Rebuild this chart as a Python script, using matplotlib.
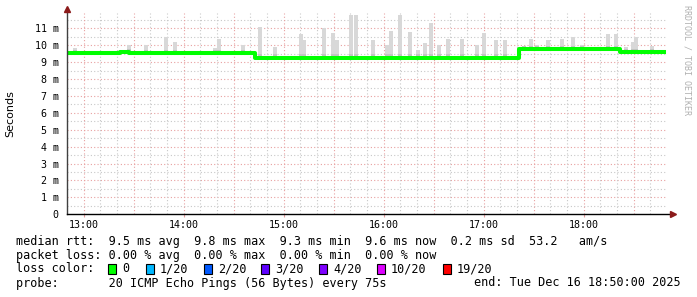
import matplotlib
matplotlib.use('Agg')
import matplotlib.pyplot as plt
from matplotlib.patches import Rectangle
import numpy as np

# minutes after 12:50, graph runs 12:50 -> 18:50
med_edges = [0, 32, 37, 113, 271, 332, 358]
med_vals = [9.56, 9.63, 9.56, 9.28, 9.76, 9.58]   # ms

# smoke spikes: start minute and top (ms)
spike_t = [3.6, 36, 46.2, 58.2, 63.6, 87.6, 90, 104.4, 114.6, 123.6, 139.2, 141, 153, 158.4,
           160.8, 169.2, 172.2, 182.4, 190.8, 193.2, 198.6, 204.6, 209.4, 213.6, 217.2, 222,
           227.4, 235.8, 244.8, 249, 256.2, 261.6, 273, 277.2, 280.8, 287.4, 295.8, 302.4,
           307.8, 323.4, 328.2, 334.2, 338.4, 340.2, 349.8]
spike_top = [9.85, 10.0, 10.0, 10.5, 10.2, 9.85, 10.35, 10.0, 11.1, 9.9, 10.65, 10.3, 11.0, 10.75,
             10.3, 11.8, 11.8, 10.3, 10.0, 10.85, 11.8, 10.8, 9.75, 10.15, 11.35, 10.0,
             10.35, 10.4, 10.05, 10.75, 10.3, 10.3, 9.95, 10.4, 10.0, 10.3, 10.35, 10.5,
             10.0, 10.65, 10.65, 9.9, 10.2, 10.5, 9.95]

hour_ticks = [10, 70, 130, 190, 250, 310]
hour_labels = ['13:00', '14:00', '15:00', '16:00', '17:00', '18:00']
ytick_vals = list(range(0, 12))
ytick_labels = ['0'] + ['%d m' % v for v in range(1, 12)]

loss_labels = ['0', '1/20', '2/20', '3/20', '4/20', '10/20', '19/20']
loss_colors = ['#00ff00', '#00b8ff', '#0059ff', '#5e00ff', '#7e00ff', '#dd00ff', '#ff0000']

W, H = 697, 297
mono = 'DejaVu Sans Mono'

def fx(x):
    return x / W

def fy(y):
    return 1 - y / H

fig = plt.figure(figsize=(W / 100, H / 100), dpi=100)
ax = fig.add_axes([fx(67), fy(214.2), 600 / W, (214.2 - 13.3) / H])
ax.set_xlim(0, 360)
ax.set_ylim(0, 11.9)

# grid
for v in np.arange(0.5, 12, 1.0):
    ax.axhline(v, color='#c8c8c8', lw=0.8, ls=(0, (1, 2)), zorder=0)
for v in range(1, 12):
    ax.axhline(v, color='#e8a0a0', lw=0.8, ls=(0, (1, 2)), zorder=0)
for m in range(10, 360, 10):
    if (m - 10) % 30 == 0:
        ax.axvline(m, color='#e8a0a0', lw=0.8, ls=(0, (1, 2)), zorder=0)
    else:
        ax.axvline(m, color='#c8c8c8', lw=0.8, ls=(0, (1, 2)), zorder=0)

# smoke
def med_at(t):
    i = np.searchsorted(med_edges, t, side='right') - 1
    return med_vals[min(max(i, 0), len(med_vals) - 1)]

bottoms = [med_at(t) - 0.12 for t in spike_t]
heights = [top - b for top, b in zip(spike_top, bottoms)]
ax.bar(spike_t, heights, bottom=bottoms, width=2.4, align='edge', color='#d8d8d8', zorder=1)
ax.bar(spike_t, [0.3] * len(spike_t), bottom=bottoms, width=2.4, align='edge', color='#c4c4c4', zorder=1)

# median line
ax.step(med_edges, med_vals + [med_vals[-1]], where='post', color='#00ff00', lw=2.9, zorder=3)

# axes
for s in ax.spines.values():
    s.set_visible(False)
ax.plot([0, 0], [0, 12.1], color='#404040', lw=1, clip_on=False, zorder=4)
ax.plot([0, 363], [0, 0], color='black', lw=1, clip_on=False, zorder=4)
ax.plot([0], [12.15], marker='^', color='#8b1a1a', ms=4, clip_on=False, zorder=5)
ax.plot([363.5], [0], marker='>', color='#8b1a1a', ms=4, clip_on=False, zorder=5)

ax.set_xticks(hour_ticks)
ax.set_xticklabels(hour_labels, fontfamily=mono, fontsize=7.2)
ax.set_yticks(ytick_vals)
ax.set_yticklabels(ytick_labels, fontfamily=mono, fontsize=7.2)
ax.tick_params(axis='x', length=2, pad=2, color='#e8a0a0')
ax.tick_params(axis='y', length=0, pad=6)

fig.text(fx(10), fy(114), 'Seconds', rotation=90, ha='center', va='center', fontsize=8)
fig.text(fx(687), fy(5), 'RRDTOOL / TOBI OETIKER', rotation=270, ha='center', va='top',
         fontsize=6, color='#b0b0b0', fontfamily=mono)

# legend block
fs = 8.5
fig.text(fx(16), fy(241), 'median rtt:  9.5 ms avg  9.8 ms max  9.3 ms min  9.6 ms now  0.2 ms sd  53.2   am/s',
         fontfamily=mono, fontsize=fs, va='center')
fig.text(fx(16), fy(255), 'packet loss: 0.00 % avg  0.00 % max  0.00 % min  0.00 % now',
         fontfamily=mono, fontsize=fs, va='center')
fig.text(fx(16), fy(269), 'loss color:', fontfamily=mono, fontsize=fs, va='center')
box_x = [108, 146, 204, 261, 319, 377, 443]
for bx, lab, col in zip(box_x, loss_labels, loss_colors):
    fig.add_artist(Rectangle((fx(bx), fy(274)), 8 / W, 10 / H, transform=fig.transFigure,
                             facecolor=col, edgecolor='black', lw=0.8))
    fig.text(fx(bx + 14), fy(269), lab, fontfamily=mono, fontsize=fs, va='center')
fig.text(fx(16), fy(283), 'probe:       20 ICMP Echo Pings (56 Bytes) every 75s',
         fontfamily=mono, fontsize=fs, va='center')
fig.text(fx(681), fy(283), 'end: Tue Dec 16 18:50:00 2025', fontfamily=mono, fontsize=fs,
         va='center', ha='right')

fig.savefig('out.png', dpi=100)
